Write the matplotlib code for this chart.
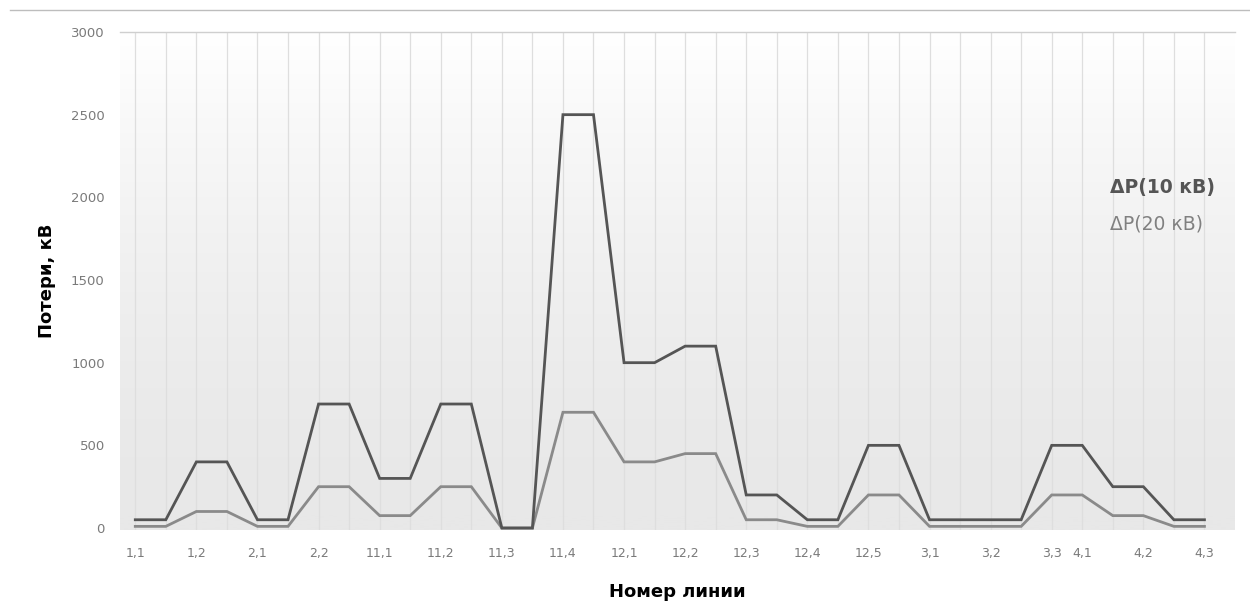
import numpy as np
import matplotlib
matplotlib.use("Agg")
import matplotlib.pyplot as plt
from matplotlib.colors import LinearSegmentedColormap

plt.rcParams['font.family'] = ['DejaVu Sans']

# Line identifiers: each line occupies two consecutive points (start / end)
tick_labels = ["1,1", "", "1,2", "", "2,1", "", "2,2", "", "11,1", "",
               "11,2", "", "11,3", "", "11,4", "", "12,1", "", "12,2", "",
               "12,3", "", "12,4", "", "12,5", "", "3,1", "", "3,2", "",
               "3,3", "4,1", "", "4,2", "", "4,3"]

# Losses at 10 kV
loss_10kv = [50, 50, 400, 400, 50, 50, 750, 750, 300, 300,
             750, 750, 0, 0, 2500, 2500, 1000, 1000, 1100, 1100,
             200, 200, 50, 50, 500, 500, 50, 50, 50, 50,
             500, 500, 250, 250, 50, 50]

# Losses at 20 kV
loss_20kv = [10, 10, 100, 100, 10, 10, 250, 250, 75, 75,
             250, 250, 0, 0, 700, 700, 400, 400, 450, 450,
             50, 50, 10, 10, 200, 200, 10, 10, 10, 10,
             200, 200, 75, 75, 10, 10]

y_ticks = [0, 500, 1000, 1500, 2000, 2500, 3000]

fig = plt.figure(figsize=(12.5, 6.06), dpi=100)
ax = fig.add_axes([0.096, 0.1254, 0.892, 0.8218])

x = np.arange(len(loss_10kv))
ax.set_xlim(-0.5, 36)
ax.set_ylim(-12, 3000)

# vertical gradient background of the plot area
grad = np.linspace(0, 1, 256).reshape(-1, 1) ** 1.6
cmap = LinearSegmentedColormap.from_list("bg", ["#e8e8e8", "#ffffff"])
ax.imshow(grad, aspect="auto", cmap=cmap, origin="lower",
          extent=[-0.5, 36, -12, 3000], zorder=0)

# vertical grid at every point
for xi in x:
    ax.axvline(xi, color="#dedede", lw=0.9, zorder=1)

ax.plot(x, loss_10kv, color="#555555", lw=2.0, zorder=3,
        solid_joinstyle="miter")
ax.plot(x, loss_20kv, color="#8a8a8a", lw=2.0, zorder=2,
        solid_joinstyle="miter")

for s in ["left", "right", "bottom"]:
    ax.spines[s].set_visible(False)
ax.spines["top"].set_color("#cfcfcf")
ax.spines["top"].set_linewidth(1.0)

ax.set_xticks(x)
ax.set_xticklabels(tick_labels, fontsize=9, color="#7a7a7a")
ax.set_yticks(y_ticks)
ax.set_yticklabels([str(v) for v in y_ticks], fontsize=9.5, color="#7a7a7a")
ax.tick_params(axis="both", length=0)
ax.tick_params(axis="x", pad=12)
ax.tick_params(axis="y", pad=11)

ax.set_ylabel("Потери, кВ", fontsize=13, fontweight="bold", labelpad=11)
ax.set_xlabel("Номер линии", fontsize=13, fontweight="bold", labelpad=17)

# legend as coloured text
fig.text(0.888, 0.681, "ΔP(10 кВ)", fontsize=13.5, color="#555555",
         fontweight="bold")
fig.text(0.888, 0.622, "ΔP(20 кВ)", fontsize=13.5, color="#808080")

# chart frame line at the top
fig.add_artist(plt.Line2D([0.008, 1.0], [0.983, 0.983], color="#bdbdbd",
                          lw=1.0, transform=fig.transFigure))

fig.savefig("out.png", dpi=100)
